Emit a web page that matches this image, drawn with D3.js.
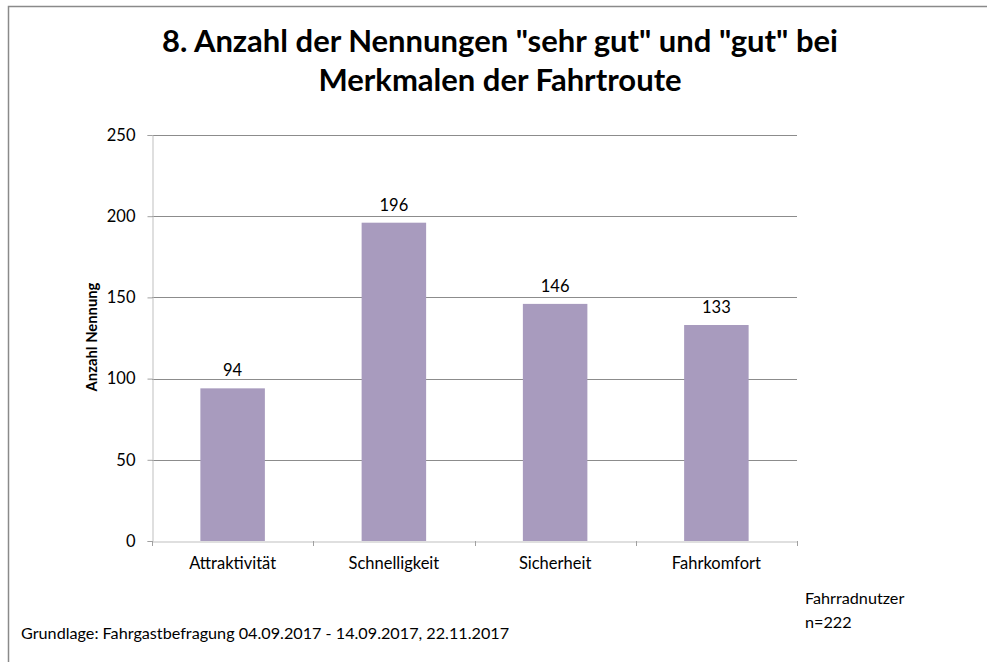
<!DOCTYPE html>
<html>
<head>
<meta charset="utf-8">
<script src="https://cdn.jsdelivr.net/npm/d3@7"></script>
<style>
  body { margin: 0; background: #fff; }
  text { font-family: Lato, "Open Sans", sans-serif; fill: #000; }
</style>
</head>
<body>
<div id="container"></div>
<script>
/* DATA */
const categories = ["Attraktivität", "Schnelligkeit", "Sicherheit", "Fahrkomfort"];
const values = [94, 196, 146, 133];
const yTicks = [0, 50, 100, 150, 200, 250];
const titleLines = ['8. Anzahl der Nennungen "sehr gut" und "gut" bei', 'Merkmalen der Fahrtroute'];

/* CONSTANTS */
const width = 987, height = 662;
const margin = { top: 135, bottom: 121, left: 152, right: 190 };

const svg = d3.select("#container")
  .append("svg")
  .attr("width", width)
  .attr("height", height);

// outer frame (only top and left edges fall inside the picture)
svg.append("rect")
  .attr("x", 8.5).attr("y", 6.5)
  .attr("width", width + 20).attr("height", height + 20)
  .attr("fill", "none")
  .attr("stroke", "#8a8a8a")
  .attr("stroke-width", 1.5);

// SCALES
const xScale = d3.scaleBand()
  .domain(categories)
  .range([margin.left, width - margin.right])
  .paddingInner(0.6)
  .paddingOuter(0.3);

const yScale = d3.scaleLinear()
  .domain([0, 250])
  .range([height - margin.bottom, margin.top]);

// gridlines
svg.append("g")
  .selectAll("line")
  .data(yTicks.filter(d => d > 0))
  .join("line")
  .attr("x1", margin.left).attr("x2", width - margin.right)
  .attr("y1", d => Math.round(yScale(d)) + 0.5)
  .attr("y2", d => Math.round(yScale(d)) + 0.5)
  .attr("stroke", "#8c8c8c");

// y axis
const yAxis = svg.append("g")
  .attr("transform", `translate(${margin.left + 0.5},0)`)
  .call(d3.axisLeft(yScale).tickValues(yTicks).tickSize(5).tickPadding(12));
yAxis.select(".domain").attr("stroke", "#bfbfbf");
yAxis.selectAll(".tick line").attr("stroke", "#a0a0a0");
yAxis.selectAll(".tick text").style("font-size", "16.5px").style("font-family", "Lato, sans-serif");

// bars
svg.append("g")
  .selectAll("rect")
  .data(values)
  .join("rect")
  .attr("x", (d, i) => xScale(categories[i]))
  .attr("y", d => yScale(d))
  .attr("width", xScale.bandwidth())
  .attr("height", d => yScale(0) - yScale(d))
  .attr("fill", "#a89bbe");

// x axis
const xAxis = svg.append("g")
  .attr("transform", `translate(0,${yScale(0) + 0.5})`)
  .call(d3.axisBottom(xScale).tickSize(0).tickPadding(16));
xAxis.select(".domain").attr("stroke", "#bfbfbf");
xAxis.selectAll(".tick text").style("font-size", "16.5px").style("font-family", "Lato, sans-serif");

// category separators on the x axis
const step = xScale.step();
const xBounds = d3.range(categories.length + 1).map(i => margin.left + i * step);
svg.append("g")
  .selectAll("line")
  .data(xBounds)
  .join("line")
  .attr("x1", d => Math.round(d) + 0.5).attr("x2", d => Math.round(d) + 0.5)
  .attr("y1", yScale(0)).attr("y2", yScale(0) + 5)
  .attr("stroke", "#a0a0a0");

// value labels
svg.append("g")
  .selectAll("text")
  .data(values)
  .join("text")
  .attr("x", (d, i) => xScale(categories[i]) + xScale.bandwidth() / 2)
  .attr("y", d => yScale(d) - 12)
  .attr("text-anchor", "middle")
  .style("font-size", "16.5px")
  .text(d => d);

// y axis title
svg.append("text")
  .attr("transform", "translate(97,337) rotate(-90)")
  .attr("text-anchor", "middle")
  .style("font-size", "14.8px")
  .style("font-weight", "bold")
  .text("Anzahl Nennung");

// title
svg.append("g")
  .selectAll("text")
  .data(titleLines)
  .join("text")
  .attr("x", 500)
  .attr("y", (d, i) => 52 + i * 39)
  .attr("text-anchor", "middle")
  .style("font-size", "31px")
  .style("font-weight", "bold")
  .text(d => d);

// notes
svg.append("text")
  .attr("x", 805).attr("y", 604)
  .style("font-size", "16.2px")
  .text("Fahrradnutzer");
svg.append("text")
  .attr("x", 805).attr("y", 628)
  .style("font-size", "16.2px")
  .text("n=222");
svg.append("text")
  .attr("x", 21).attr("y", 639)
  .style("font-size", "16.2px")
  .text("Grundlage: Fahrgastbefragung 04.09.2017 - 14.09.2017, 22.11.2017");
</script>
</body>
</html>
